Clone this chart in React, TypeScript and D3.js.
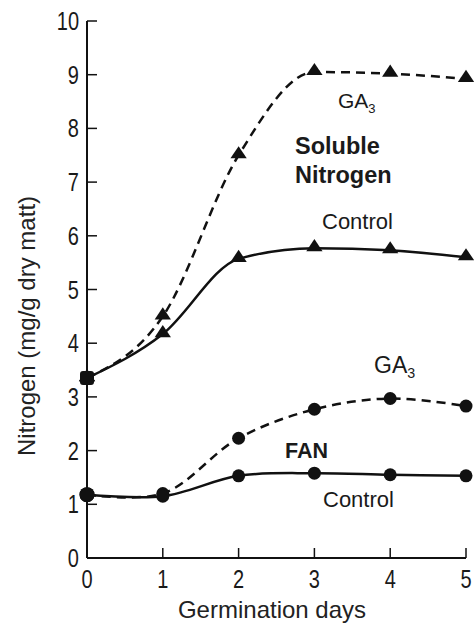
import React, { useEffect, useRef } from "react";
import * as d3 from "d3";

// Germination days on the x axis
const days = [0, 1, 2, 3, 4, 5];

// Soluble nitrogen (mg/g dry matter)
const solubleGA3 = [3.35, 4.5, 7.5, 9.05, 9.02, 8.92];
const solubleControl = [3.35, 4.17, 5.57, 5.77, 5.73, 5.6];

// Free amino nitrogen (mg/g dry matter)
const fanGA3 = [1.18, 1.2, 2.23, 2.77, 2.97, 2.83];
const fanControl = [1.18, 1.15, 1.53, 1.58, 1.55, 1.53];

const yTicks = [0, 1, 2, 3, 4, 5, 6, 7, 8, 9, 10];
const xTicks = [0, 1, 2, 3, 4, 5];

const W = 474;
const H = 638;

export default function App() {
  const ref = useRef<SVGSVGElement>(null);

  useEffect(() => {
    const svg = d3.select(ref.current);
    svg.selectAll("*").remove();

    const x = d3.scaleLinear().domain([0, 5]).range([87, 466]);
    const y = d3.scaleLinear().domain([0, 10]).range([558, 21]);

    const ink = "#111";
    const tickFont = "'Liberation Sans', Arial, sans-serif";
    const textFont = "'Liberation Sans', Arial, sans-serif";

    // Axes lines
    const axes = svg.append("g").attr("stroke", ink).attr("stroke-width", 2).attr("fill", "none");
    axes.append("line").attr("x1", x(0)).attr("x2", x(0)).attr("y1", y(10)).attr("y2", y(0));
    axes.append("line").attr("x1", x(0)).attr("x2", x(5)).attr("y1", y(0)).attr("y2", y(0));

    // Y ticks point inward (to the right)
    axes.selectAll("line.yt")
      .data(yTicks.filter((t) => t > 0))
      .join("line")
      .attr("class", "yt")
      .attr("stroke-width", 1.5)
      .attr("x1", x(0))
      .attr("x2", x(0) + 10)
      .attr("y1", (d) => y(d))
      .attr("y2", (d) => y(d));

    // X ticks point upward
    axes.selectAll("line.xt")
      .data(xTicks.filter((t) => t > 0))
      .join("line")
      .attr("class", "xt")
      .attr("stroke-width", 1.5)
      .attr("x1", (d) => x(d))
      .attr("x2", (d) => x(d))
      .attr("y1", y(0))
      .attr("y2", y(0) - 10);

    // Tick labels, in a condensed digit style
    svg.append("g")
      .selectAll("text")
      .data(yTicks)
      .join("text")
      .attr("transform", (d) => `translate(${x(0) - 8},${y(d)}) scale(0.8,1)`)
      .attr("dy", "0.36em")
      .attr("text-anchor", "end")
      .attr("font-family", tickFont)
      .attr("font-size", 25)
      .attr("fill", "#1a1a1a")
      .text((d) => String(d));

    svg.append("g")
      .selectAll("text")
      .data(xTicks)
      .join("text")
      .attr("transform", (d) => `translate(${x(d)},${y(0) + 30}) scale(0.8,1)`)
      .attr("text-anchor", "middle")
      .attr("font-family", tickFont)
      .attr("font-size", 25)
      .attr("fill", "#1a1a1a")
      .text((d) => String(d));

    // Axis titles
    svg.append("text")
      .attr("x", 272)
      .attr("y", 618)
      .attr("text-anchor", "middle")
      .attr("font-family", textFont)
      .attr("font-size", 24)
      .attr("fill", "#222")
      .text("Germination days");

    svg.append("text")
      .attr("transform", `translate(35, 326) rotate(-90)`)
      .attr("text-anchor", "middle")
      .attr("font-family", textFont)
      .attr("font-size", 24)
      .attr("fill", "#222")
      .text("Nitrogen (mg/g dry matt)");

    // Series: soluble curves plateau flat, FAN curves rise smoothly
    const lineWith = (curve: d3.CurveFactory) =>
      d3
        .line<number>()
        .x((_, i) => x(days[i]))
        .y((d) => y(d))
        .curve(curve);

    const flat = lineWith(d3.curveMonotoneX);
    const smooth = lineWith(d3.curveCatmullRom.alpha(0.5));

    const series = [
      { values: solubleGA3, dashed: true, marker: "triangle", line: flat },
      { values: solubleControl, dashed: false, marker: "triangle", line: flat },
      { values: fanGA3, dashed: true, marker: "circle", line: smooth },
      { values: fanControl, dashed: false, marker: "circle", line: smooth },
    ];

    const tri = d3.symbol().type(d3.symbolTriangle).size(95)();

    series.forEach((s) => {
      svg.append("path")
        .attr("d", s.line(s.values))
        .attr("fill", "none")
        .attr("stroke", ink)
        .attr("stroke-width", 2.5)
        .attr("stroke-dasharray", s.dashed ? "9,6" : null);

      const g = svg.append("g").attr("fill", ink);
      if (s.marker === "triangle") {
        g.selectAll("path")
          .data(s.values)
          .join("path")
          .attr("d", tri)
          .attr("transform", (d, i) => `translate(${x(days[i])},${y(d) - 1}) scale(1.1,0.95)`);
      } else {
        g.selectAll("circle")
          .data(s.values)
          .join("circle")
          .attr("cx", (_, i) => x(days[i]))
          .attr("cy", (d) => y(d))
          .attr("r", (_, i) => (i === 0 ? 7.5 : 6.5));
      }
    });

    // Day 0 soluble markers overlap into a blob
    svg.append("rect")
      .attr("x", x(0) - 7)
      .attr("y", y(solubleControl[0]) - 7)
      .attr("width", 14)
      .attr("height", 14)
      .attr("rx", 3)
      .attr("fill", ink);

    // Annotations
    const addLabel = (
      tx: number,
      ty: number,
      txt: string,
      size: number,
      bold = false,
      sub?: string
    ) => {
      const t = svg.append("text")
        .attr("x", tx)
        .attr("y", ty)
        .attr("font-family", textFont)
        .attr("font-size", size)
        .attr("font-weight", bold ? "bold" : "normal")
        .attr("fill", "#1a1a1a")
        .text(txt);
      if (sub) {
        t.append("tspan")
          .attr("font-size", size * 0.62)
          .attr("dy", size * 0.22)
          .text(sub);
      }
    };

    addLabel(338, 108, "GA", 21, false, "3");
    addLabel(295, 154, "Soluble", 23.5, true);
    addLabel(295, 183, "Nitrogen", 23.5, true);
    addLabel(322, 229, "Control", 22);

    addLabel(374, 373, "GA", 23, false, "3");
    addLabel(285, 458, "FAN", 21.5, true);
    addLabel(323, 507, "Control", 22);
  }, []);

  return (
    <svg
      ref={ref}
      width={W}
      height={H}
      style={{ position: "absolute", left: 0, top: 0, background: "#fff" }}
    />
  );
}
